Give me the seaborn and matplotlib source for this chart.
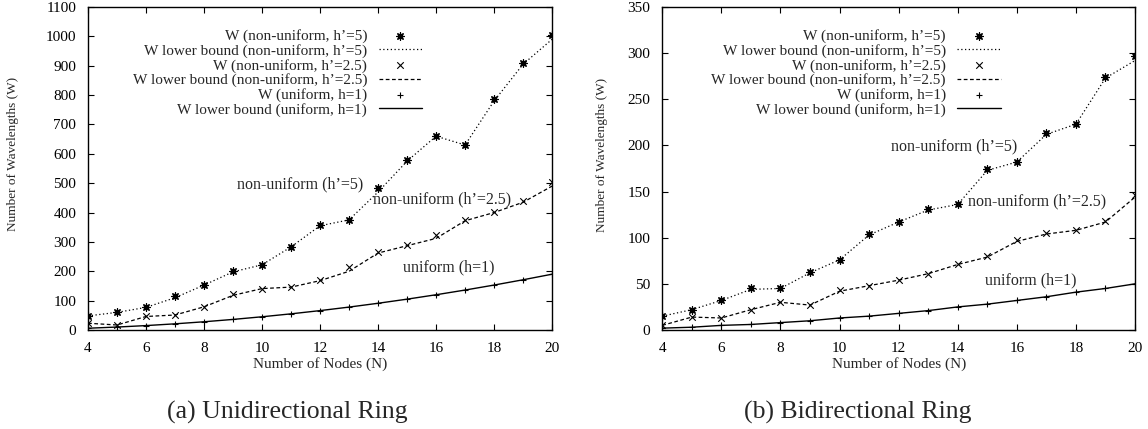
import numpy as np
import seaborn as sns
import matplotlib
matplotlib.use("Agg")
import matplotlib.pyplot as plt

# node counts on the x axis
nodes = list(range(4, 21))

# (a) unidirectional ring
uni_w_h5 = [48, 60, 77, 116, 153, 201, 222, 283, 358, 375, 482, 579, 660, 630, 785, 910, 1005]
uni_lb_h5 = [48, 60, 77, 110, 153, 198, 222, 283, 355, 375, 470, 575, 660, 630, 780, 905, 990]
uni_w_h25 = [23, 17, 48, 51, 79, 123, 141, 148, 170, 216, 265, 289, 323, 375, 402, 440, 505]
uni_lb_h25 = [23, 17, 46, 51, 79, 118, 141, 146, 168, 200, 262, 287, 312, 372, 400, 435, 490]
uni_w_h1 = [6, 10, 15, 21, 28, 36, 45, 55, 66, 78, 91, 105, 120, 136, 153, 171, 190]
uni_lb_h1 = [6, 10, 15, 21, 28, 36, 45, 55, 66, 78, 91, 105, 120, 136, 153, 171, 190]

# (b) bidirectional ring
bi_w_h5 = [15, 22, 32, 45, 45, 63, 76, 104, 117, 131, 137, 174, 182, 213, 223, 274, 297]
bi_lb_h5 = [15, 22, 32, 44, 45, 62, 76, 103, 117, 130, 136, 173, 182, 212, 223, 273, 292]
bi_w_h25 = [5, 14, 13, 22, 30, 27, 43, 48, 54, 61, 72, 80, 97, 105, 108, 118, 146]
bi_lb_h25 = [5, 14, 13, 22, 30, 27, 42, 48, 54, 61, 71, 79, 96, 104, 108, 117, 144]
bi_w_h1 = [2, 3, 5, 6, 8, 10, 13, 15, 18, 21, 25, 28, 32, 36, 41, 45, 50]
bi_lb_h1 = [2, 3, 5, 6, 8, 10, 13, 15, 18, 21, 25, 28, 32, 36, 41, 45, 50]

legend_labels = ["W (non-uniform, h\u2019=5)", "W lower bound (non-uniform, h\u2019=5)",
                 "W (non-uniform, h\u2019=2.5)", "W lower bound (non-uniform, h\u2019=2.5)",
                 "W (uniform, h=1)", "W lower bound (uniform, h=1)"]

sns.set_style("ticks")
plt.rcParams["font.family"] = ["Liberation Serif", "DejaVu Serif"]
plt.rcParams["xtick.direction"] = "in"
plt.rcParams["ytick.direction"] = "in"

fig = plt.figure(figsize=(11.48, 4.29), dpi=100)
ax1 = fig.add_axes([0.0767, 0.2308, 0.4042, 0.7529])
ax2 = fig.add_axes([0.5769, 0.2308, 0.4118, 0.7529])

asterisk = (8, 2, 0)


def draw_panel(ax, w5, lb5, w25, lb25, w1, lb1):
    sns.scatterplot(x=nodes, y=w5, ax=ax, marker=asterisk, s=28, color="black",
                    linewidth=0.9, label=legend_labels[0], zorder=3)
    sns.lineplot(x=nodes, y=lb5, ax=ax, color="black", lw=0.9,
                 linestyle=(0, (1, 2)), label=legend_labels[1])
    sns.scatterplot(x=nodes, y=w25, ax=ax, marker="x", s=22, color="black",
                    linewidth=0.8, label=legend_labels[2], zorder=3)
    sns.lineplot(x=nodes, y=lb25, ax=ax, color="black", lw=0.9,
                 linestyle=(0, (3, 2)), label=legend_labels[3])
    sns.scatterplot(x=nodes, y=w1, ax=ax, marker="+", s=22, color="black",
                    linewidth=0.8, label=legend_labels[4], zorder=3)
    sns.lineplot(x=nodes, y=lb1, ax=ax, color="black", lw=1.0,
                 linestyle="-", label=legend_labels[5])

    ax.set_xlim(4, 20)
    ax.set_xticks(range(4, 21, 2))
    ax.tick_params(which="both", top=True, right=True, length=4, width=0.8,
                   labelsize=11, pad=8.5, colors="black")
    for sp in ax.spines.values():
        sp.set_visible(True)
        sp.set_linewidth(1.0)
        sp.set_color("black")
    ax.set_xlabel("Number of Nodes (N)", fontsize=11, labelpad=1.5)
    ax.set_ylabel("Number of Wavelengths (W)", fontsize=9.5)

    handles, labels = ax.get_legend_handles_labels()
    ax.legend(handles, labels, loc="upper right", bbox_to_anchor=(0.72, 0.931),
              frameon=False, markerfirst=False, fontsize=11, handlelength=2.85,
              handletextpad=0.75, labelspacing=0.05, borderaxespad=0, borderpad=0)


draw_panel(ax1, uni_w_h5, uni_lb_h5, uni_w_h25, uni_lb_h25, uni_w_h1, uni_lb_h1)
ax1.set_ylim(0, 1100)
ax1.set_yticks(range(0, 1101, 100))
ax1.yaxis.set_label_coords(-(88 - 19) / 464, 0.545)
ax1.text(9.14, 497, "non-uniform (h\u2019=5)", fontsize=11.5, va="center", ha="left")
ax1.text(13.83, 446, "non-uniform (h\u2019=2.5)", fontsize=11.5, va="center", ha="left")
ax1.text(14.86, 214, "uniform (h=1)", fontsize=11.5, va="center", ha="left")

draw_panel(ax2, bi_w_h5, bi_lb_h5, bi_w_h25, bi_lb_h25, bi_w_h1, bi_lb_h1)
ax2.set_ylim(0, 350)
ax2.set_yticks(range(0, 351, 50))
ax2.yaxis.set_label_coords(-(662 - 608) / 473, 0.542)
ax2.get_legend().set_bbox_to_anchor((0.716, 0.931))
ax2.text(11.73, 199, "non-uniform (h\u2019=5)", fontsize=11.5, va="center", ha="left")
ax2.text(14.36, 139, "non-uniform (h\u2019=2.5)", fontsize=11.5, va="center", ha="left")
ax2.text(14.92, 54, "uniform (h=1)", fontsize=11.5, va="center", ha="left")

fig.text(287 / 1148, 1 - 412 / 429, "(a) Unidirectional Ring", fontsize=18.5,
         ha="center", va="center")
fig.text(858 / 1148, 1 - 412 / 429, "(b) Bidirectional Ring", fontsize=18.5,
         ha="center", va="center")

fig.savefig("out.png", dpi=100)
